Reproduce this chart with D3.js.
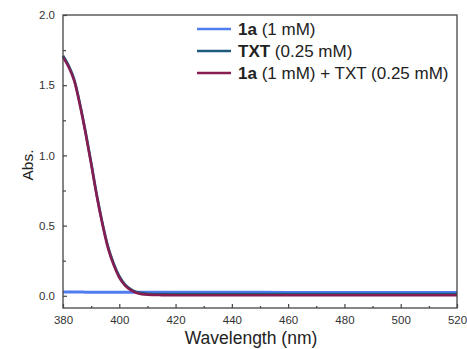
<!DOCTYPE html>
<html><head><meta charset="utf-8">
<script src="https://cdn.jsdelivr.net/npm/d3@7"></script>
<style>body{margin:0;background:#fff}svg{display:block}text{font-family:"Liberation Sans",Arial,sans-serif}</style>
</head><body><svg id="c" width="467" height="349"></svg>
<script>
const wavelengths = [380,382,384,386,388,390,392,394,396,398,400,402,404,406,408,410,415,420,440,460,480,500,520];
const abs1a  = [0.027,0.027,0.027,0.027,0.026,0.026,0.026,0.026,0.026,0.026,0.026,0.026,0.026,0.026,0.025,0.025,0.025,0.025,0.025,0.024,0.024,0.024,0.024];
const absTXT = [1.71,1.64,1.54,1.37,1.17,0.95,0.72,0.52,0.35,0.23,0.14,0.082,0.048,0.028,0.019,0.015,0.013,0.013,0.013,0.013,0.013,0.013,0.013];
const absMix = [1.70,1.63,1.53,1.36,1.16,0.94,0.71,0.51,0.34,0.22,0.13,0.075,0.042,0.022,0.012,0.008,0.005,0.004,0.004,0.004,0.004,0.004,0.004];
const xTicks = [380,400,420,440,460,480,500,520];
const yTicks = [0.0,0.5,1.0,1.5,2.0];
const legendLabels = [["1a"," (1 mM)"],["TXT"," (0.25 mM)"],["1a"," (1 mM) + TXT (0.25 mM)"]];
const colors = ["#4f7cf0","#1d5a7c","#861d52"];

const svg = d3.select("#c");
const L=63,R=457,T=15,B=308;
const x = d3.scaleLinear().domain([380,520]).range([L,R]);
const y = d3.scaleLinear().domain([-0.087,2.0]).range([B,T]);
const axisCol="#444";

const line = d3.line().x((d,i)=>x(wavelengths[i])).y(d=>y(d)).curve(d3.curveMonotoneX);
const g = svg.append("g");
[abs1a,absTXT,absMix].forEach((s,i)=>{
  g.append("path").datum(s).attr("d",line).attr("fill","none")
   .attr("stroke",colors[i]).attr("stroke-width",i===0?3:2.6);
});

// frame
svg.append("rect").attr("x",L).attr("y",T).attr("width",R-L).attr("height",B-T)
  .attr("fill","none").attr("stroke",axisCol).attr("stroke-width",1.3);

// x axis
svg.append("g").attr("transform",`translate(0,${B})`)
  .call(d3.axisBottom(x).tickValues(xTicks).tickSize(-4).tickPadding(8).tickFormat(d3.format("d")));
svg.append("g").attr("transform",`translate(0,${B})`)
  .call(d3.axisBottom(x).tickValues(d3.range(390,520,20)).tickSize(-2).tickFormat(""));
// y axis
svg.append("g").attr("transform",`translate(${L},0)`)
  .call(d3.axisLeft(y).tickValues(yTicks).tickSize(-4).tickPadding(8).tickFormat(d3.format(".1f")));
svg.append("g").attr("transform",`translate(${L},0)`)
  .call(d3.axisLeft(y).tickValues([0.25,0.75,1.25,1.75]).tickSize(-3).tickFormat(""));
svg.selectAll(".domain").remove();
svg.selectAll(".tick line").attr("stroke",axisCol).attr("stroke-width",1.2);
svg.selectAll(".tick text").attr("fill","#333").style("font-size","11.5px").style("font-family","Liberation Sans, Arial, sans-serif");

svg.append("text").attr("x",251).attr("y",344).attr("text-anchor","middle")
  .style("font-size","17.5px").attr("fill","#222").text("Wavelength (nm)");
svg.append("text").attr("transform","translate(33,165) rotate(-90)").attr("text-anchor","middle")
  .style("font-size","15.5px").attr("fill","#222").text("Abs.");

// legend
const ly=[29,51,73];
legendLabels.forEach((lab,i)=>{
  svg.append("line").attr("x1",197).attr("x2",231).attr("y1",ly[i]).attr("y2",ly[i])
    .attr("stroke",colors[i]).attr("stroke-width",2.6);
  const t=svg.append("text").attr("x",238).attr("y",ly[i]+5.5).style("font-size","17px").attr("fill","#222");
  t.append("tspan").style("font-weight","bold").text(lab[0]);
  t.append("tspan").text(lab[1]);
});
</script></body></html>
